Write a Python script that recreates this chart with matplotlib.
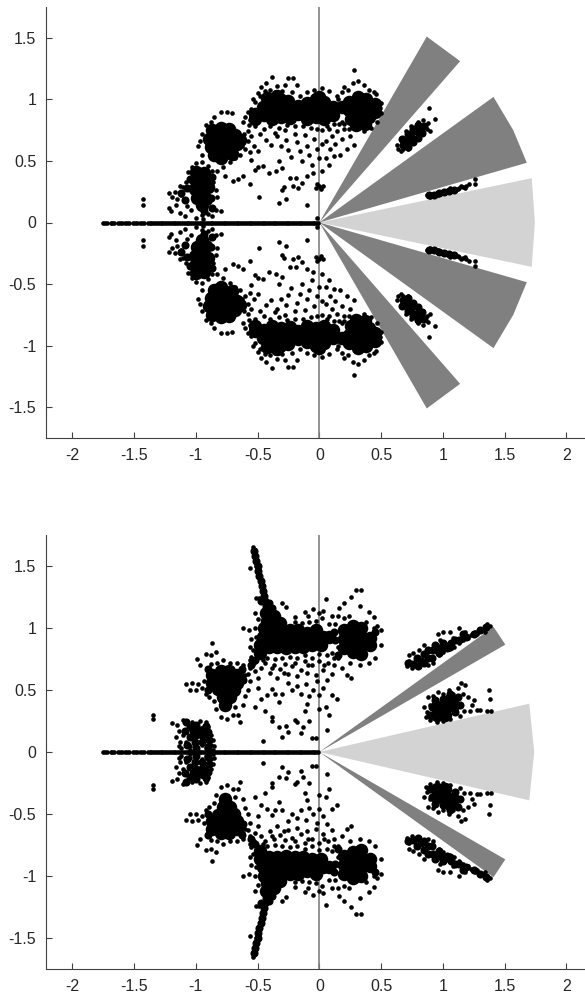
"""Two eigenvalue-style scatter panels with sector wedges (upper half typed, lower half is its conjugate)."""
import matplotlib

matplotlib.use("Agg")
import matplotlib.pyplot as plt
import numpy as np

plt.rcParams["font.family"] = ["Liberation Sans", "DejaVu Sans"]

XTICKS = [-2, -1.5, -1, -0.5, 0, 0.5, 1, 1.5, 2]
YTICKS = [-1.5, -1, -0.5, 0, 0.5, 1, 1.5]
XLABELS = ["-2", "-1.5", "-1", "-0.5", "0", "0.5", "1", "1.5", "2"]
YLABELS = ["-1.5", "-1", "-0.5", "0", "0.5", "1", "1.5"]

REAL_AXIS = [-1.75, -1.72, -1.69, -1.66, -1.63, -1.6, -1.57, -1.54, -1.51, -1.48, -1.45, -1.42,
             -1.39, -1.36, -1.33, -1.3, -1.27, -1.24, -1.21, -1.18, -1.15, -1.12, -1.09, -1.06,
             -1.03, -1.0, -0.97, -0.94, -0.91, -0.88, -0.85, -0.82, -0.79, -0.76, -0.73, -0.7,
             -0.67, -0.64, -0.61, -0.58, -0.55, -0.52, -0.49, -0.46, -0.43, -0.4, -0.37, -0.34,
             -0.31, -0.28, -0.25, -0.22, -0.19, -0.16, -0.13, -0.1, -0.07, -0.04, -0.01,
             -1.735, -1.675, -1.615, -1.555, -1.495, -1.435, -1.375, -1.345, -1.315, -1.285, -1.255,
             -1.225, -1.195, -1.165, -1.135, -1.105, -1.075, -1.045, -1.015, -0.985, -0.955, -0.925,
             -0.895, -0.865, -0.835, -0.805, -0.775, -0.745, -0.715, -0.685, -0.655, -0.625, -0.595,
             -0.565, -0.535, -0.505, -0.475, -0.445, -0.415, -0.385, -0.355, -0.325, -0.295, -0.265,
             -0.235, -0.205, -0.175, -0.145, -0.115, -0.085, -0.055, -0.025]

# wedge outlines, upper half only
TOP_LIGHT = [(0, 0), (1.72, 0.36), (1.745, 0), (1.72, -0.36)]
TOP_DARK = [[(0, 0), (1.68, 0.485), (1.57, 0.75), (1.41, 1.02)],
            [(0, 0), (1.14, 1.31), (0.87, 1.51)]]
BOT_LIGHT = [(0, 0), (1.70, 0.39), (1.74, 0), (1.70, -0.39)]
BOT_DARK = [[(0, 0), (1.506, 0.866), (1.41, 1.01)]]

# dense cores are too packed to read dot by dot, so they get fewer, fatter dots
TOP_CORE = [(-1.0, 0.41), (-0.93, 0.4), (-1.0, 0.34), (-0.93, 0.33), (-1.01, 0.27), (-0.94, 0.26),
            (-0.9, 0.29), (-0.99, 0.2), (-0.92, 0.19), (-0.95, 0.14),
            (-0.87, 0.75), (-0.8, 0.77), (-0.73, 0.76), (-0.89, 0.68), (-0.82, 0.7), (-0.75, 0.69),
            (-0.68, 0.71), (-0.88, 0.61), (-0.81, 0.63), (-0.74, 0.62), (-0.67, 0.64), (-0.85, 0.55),
            (-0.78, 0.56), (-0.71, 0.56), (-0.64, 0.67), (-0.8, 0.52),
            (-0.52, 0.88), (-0.46, 0.94), (-0.39, 0.98), (-0.32, 1.0), (-0.25, 0.99), (-0.52, 0.84),
            (-0.45, 0.87), (-0.38, 0.91), (-0.31, 0.93), (-0.24, 0.92), (-0.17, 0.95), (-0.1, 0.97),
            (-0.03, 1.0), (0.04, 0.98), (-0.38, 0.84), (-0.31, 0.86), (-0.24, 0.85), (-0.17, 0.88),
            (-0.1, 0.9), (-0.03, 0.93), (0.04, 0.91), (0.11, 0.94), (-0.03, 0.86), (0.04, 0.84),
            (0.11, 0.87), (-0.1, 0.84), (-0.42, 1.01), (-0.34, 1.03), (0.0, 1.02),
            (0.24, 0.98), (0.31, 1.02), (0.38, 1.0), (0.45, 0.96), (0.24, 0.91), (0.31, 0.95),
            (0.38, 0.93), (0.45, 0.9), (0.26, 0.84), (0.33, 0.88), (0.4, 0.86), (0.3, 0.79),
            (0.37, 0.8), (0.18, 0.94)]
BOT_CORE = [(-0.48, 0.86), (-0.41, 0.85), (-0.34, 0.85), (-0.27, 0.84), (-0.2, 0.85), (-0.13, 0.85),
            (-0.06, 0.86), (0.01, 0.86), (-0.46, 0.93), (-0.39, 0.92), (-0.32, 0.92), (-0.25, 0.91),
            (-0.18, 0.92), (-0.11, 0.92), (-0.04, 0.93), (0.03, 0.93), (-0.45, 1.0), (-0.38, 0.99),
            (-0.31, 0.99), (-0.24, 0.98), (-0.17, 0.98), (-0.1, 0.96), (-0.03, 0.98), (0.08, 0.93),
            (-0.42, 1.06), (-0.37, 1.1), (-0.43, 1.12), (-0.32, 1.04), (-0.48, 0.8),
            (0.2, 0.98), (0.27, 1.02), (0.34, 1.0), (0.2, 0.91), (0.27, 0.95), (0.34, 0.93),
            (0.41, 0.92), (0.2, 0.84), (0.27, 0.88), (0.34, 0.86), (0.41, 0.86), (0.27, 0.81),
            (0.34, 0.79),
            (-0.87, 0.62), (-0.8, 0.65), (-0.73, 0.65), (-0.67, 0.62), (-0.87, 0.56), (-0.8, 0.58),
            (-0.73, 0.58), (-0.67, 0.56), (-0.82, 0.51), (-0.75, 0.51), (-0.69, 0.5), (-0.78, 0.44),
            (-0.72, 0.44), (-0.76, 0.38),
            (-1.0, 0.16), (-0.94, 0.16),
            (0.95, 0.3), (1.02, 0.3), (0.95, 0.36), (1.02, 0.36), (1.08, 0.38), (1.06, 0.42)]

# streaks and thin clusters
TOP_MID = [(0.68, 0.63), (0.71, 0.66), (0.74, 0.7), (0.78, 0.74), (0.82, 0.77), (0.72, 0.61),
           (0.76, 0.65), (0.8, 0.69), (0.83, 0.73), (0.85, 0.78), (0.72, 0.72), (0.76, 0.76),
           (0.8, 0.79), (0.67, 0.68),
           (0.89, 0.22), (0.93, 0.225), (0.97, 0.24), (1.01, 0.245), (1.05, 0.255), (1.09, 0.265),
           (-1.12, 0.24), (-1.09, 0.18), (-1.07, 0.28), (-1.05, 0.35), (-0.87, 0.37), (-0.88, 0.2),
           (-0.93, 0.09), (-0.87, 0.12)]
BOT_MID = [(-0.53, 1.62), (-0.52, 1.58), (-0.51, 1.54), (-0.5, 1.5), (-0.495, 1.46), (-0.485, 1.42),
           (-0.475, 1.38), (-0.465, 1.34), (-0.46, 1.3), (-0.45, 1.26), (-0.44, 1.22), (-0.43, 1.18),
           (-0.47, 1.22), (-0.38, 1.16), (-0.41, 1.2),
           (0.76, 0.71), (0.8, 0.69), (0.85, 0.72), (0.79, 0.76), (0.85, 0.79), (0.91, 0.76), (0.92, 0.82),
           (0.97, 0.8), (0.98, 0.84), (1.03, 0.84), (1.07, 0.88), (1.13, 0.9), (1.19, 0.93), (1.25, 0.95),
           (1.3, 0.98), (1.35, 1.01), (0.72, 0.72), (0.82, 0.73), (0.88, 0.76), (0.88, 0.82), (0.94, 0.86),
           (1.0, 0.88), (1.06, 0.85), (1.1, 0.9), (1.16, 0.95),
           (0.9, 0.3), (0.91, 0.36), (0.94, 0.42), (1.0, 0.43), (1.1, 0.32), (1.14, 0.38), (1.12, 0.44),
           (1.06, 0.47),
           (-1.08, 0.24), (-1.05, 0.2), (-1.09, 0.17), (-1.05, 0.12), (-1.01, 0.08), (-0.95, 0.08), (-0.9, 0.16),
           (-0.92, 0.21), (-1.0, 0.22), (-0.89, 0.1), (-1.07, 0.06), (-1.0, 0.03), (-0.9, 0.04),
           (-0.9, 0.67), (-0.62, 0.58), (-0.63, 0.67), (-0.55, 0.7), (-0.52, 0.74), (-0.9, 0.5),
           (0.13, 0.9), (0.12, 0.97), (0.45, 0.97), (0.15, 0.78)]

TOP_DOTS = [(-1.43, 0.19), (-1.43, 0.14), (-1.22, 0.24), (-1.19, 0.21), (-1.17, 0.25), (-1.22, 0.12),
            (-1.2, 0.09), (-1.16, 0.14), (-1.15, 0.19), (-1.13, 0.08), (-1.12, 0.22), (-1.1, 0.29),
            (-1.13, 0.3), (-1.08, 0.33), (-1.07, 0.13), (-1.09, 0.05), (-1.06, 0.41), (-1.03, 0.45),
            (-1.0, 0.48), (-0.95, 0.49), (-0.9, 0.46), (-0.87, 0.42), (-0.86, 0.33), (-0.84, 0.26),
            (-0.83, 0.21), (-0.87, 0.12), (-0.84, 0.1), (-0.9, 0.07), (-0.95, 0.06), (-1.0, 0.04),
            (-0.94, 0.03), (-0.87, 0.05), (-0.8, 0.09), (-0.94, 0.1), (-1.04, 0.1),
            (-0.97, 0.66), (-0.98, 0.62), (-0.95, 0.72), (-0.95, 0.55), (-0.92, 0.79), (-0.88, 0.82),
            (-0.85, 0.86), (-0.8, 0.9), (-0.75, 0.9), (-0.71, 0.89), (-0.62, 0.82), (-0.58, 0.74),
            (-0.6, 0.6), (-0.64, 0.55), (-0.68, 0.52), (-0.72, 0.49), (-0.78, 0.45), (-0.83, 0.42),
            (-0.76, 0.38), (-0.7, 0.34), (-0.66, 0.35), (-0.62, 0.38), (-0.56, 0.31), (-0.52, 0.43),
            (-0.55, 0.51), (-0.5, 0.45), (-0.46, 0.46), (-0.41, 0.4), (-0.49, 0.21), (-0.56, 0.57),
            (-0.5, 0.58), (-0.56, 0.83), (-0.55, 0.92), (-0.52, 0.98), (-0.5, 1.05), (-0.47, 1.1),
            (-0.43, 1.13), (-0.38, 1.18), (-0.34, 1.11), (-0.28, 1.12), (-0.25, 1.17), (-0.21, 1.17),
            (-0.18, 1.12), (-0.1, 1.06), (-0.04, 1.08), (0.02, 1.09), (0.08, 1.07), (0.14, 1.03),
            (0.2, 1.1), (0.27, 1.13), (0.31, 1.15), (0.36, 1.12), (0.46, 1.04), (0.5, 0.97),
            (0.5, 0.89), (0.47, 0.82), (0.42, 0.77), (0.36, 0.74), (0.28, 1.24), (0.89, 0.93), (0.94, 0.84),
            (-0.45, 0.76), (-0.4, 0.78), (-0.36, 0.73), (-0.34, 0.7), (-0.43, 0.67), (-0.39, 0.63),
            (-0.31, 0.62), (-0.28, 0.75), (-0.27, 0.67), (-0.25, 0.59), (-0.23, 0.53), (-0.2, 0.72),
            (-0.18, 0.65), (-0.16, 0.58), (-0.14, 0.5), (-0.12, 0.71), (-0.1, 0.62), (-0.08, 0.55),
            (-0.06, 0.47), (-0.04, 0.68), (-0.02, 0.6), (0.0, 0.52), (0.02, 0.42), (-0.05, 0.4),
            (-0.02, 0.31), (0.0, 0.3), (0.03, 0.3), (-0.03, 0.28), (0.01, 0.27), (-0.14, 0.32),
            (-0.1, 0.38), (-0.17, 0.28), (-0.21, 0.3), (-0.33, 0.5), (-0.35, 0.42), (-0.3, 0.44),
            (-0.29, 0.29), (-0.3, 0.26), (-0.33, 0.16), (-0.27, 0.19), (-0.24, 0.36), (-0.19, 0.36),
            (-0.1, 0.14), (-0.02, 0.04), (0.06, 0.78), (0.1, 0.7), (0.14, 0.74), (0.18, 0.68),
            (0.05, 0.66), (0.09, 0.6), (0.13, 0.64), (0.17, 0.55), (0.2, 0.8), (0.25, 0.7), (0.28, 0.63),
            (0.22, 0.6), (0.05, 0.52), (0.08, 0.47), (0.12, 0.54), (0.02, 0.64), (0.16, 0.8),
            (0.64, 0.6), (0.66, 0.58), (0.63, 0.63), (0.68, 0.6), (0.72, 0.6), (0.76, 0.65),
            (0.8, 0.68), (0.84, 0.72), (0.87, 0.76), (0.88, 0.81), (0.84, 0.83), (0.8, 0.82),
            (0.74, 0.78), (0.7, 0.74), (0.9, 0.74), (0.66, 0.68),
            (0.87, 0.22), (0.89, 0.23), (0.92, 0.22), (0.95, 0.24), (0.98, 0.23), (1.01, 0.25),
            (1.04, 0.25), (1.07, 0.26), (1.1, 0.27), (1.13, 0.28), (1.16, 0.29), (1.19, 0.3),
            (0.9, 0.21), (0.96, 0.22), (1.02, 0.24), (1.06, 0.28), (1.26, 0.35), (1.26, 0.31),
            (1.12, 0.27), (1.15, 0.3), (1.18, 0.28), (1.21, 0.31),
            (-0.6, 0.86), (-0.58, 0.9), (-0.57, 0.79), (-0.54, 1.0), (-0.48, 1.03), (-0.44, 1.07),
            (-0.4, 1.08), (-0.36, 1.06), (-0.3, 1.07), (-0.22, 1.06), (-0.16, 1.03), (0.15, 1.0),
            (0.18, 1.06), (0.23, 1.08), (0.4, 1.08), (0.44, 1.06), (0.49, 0.93), (0.18, 0.82),
            (0.2, 0.76), (0.24, 0.76), (0.12, 0.8), (0.08, 0.76), (0.02, 0.75), (-0.02, 0.76),
            (-0.07, 0.77), (-0.13, 0.78), (-0.2, 0.78), (-0.26, 0.79), (-0.33, 0.77), (-0.48, 0.72),
            (-0.52, 0.78), (-0.55, 0.7), (-0.61, 0.72), (-0.58, 0.66), (-0.53, 0.62), (-0.63, 0.62)]

BOT_DOTS = [(-0.54, 1.65), (-0.535, 1.62), (-0.53, 1.59), (-0.52, 1.56), (-0.515, 1.53), (-0.51, 1.5),
            (-0.5, 1.47), (-0.5, 1.44), (-0.49, 1.41), (-0.48, 1.38), (-0.47, 1.35), (-0.46, 1.32),
            (-0.46, 1.29), (-0.45, 1.26), (-0.44, 1.24), (-0.43, 1.21), (-0.42, 1.18), (-0.47, 1.21),
            (-0.44, 1.16), (-0.41, 1.14), (-0.45, 1.12), (-0.39, 1.1), (-0.56, 1.48), (-0.49, 1.24),
            (-0.46, 1.27), (-0.52, 1.12), (-0.51, 1.24), (-0.5, 1.07), (-0.52, 1.0), (-0.55, 0.91),
            (-0.56, 0.85), (-0.51, 0.93), (-0.56, 0.74), (-0.54, 0.82), (-0.55, 0.77), (-0.53, 0.72),
            (-0.36, 1.08), (-0.3, 1.2), (-0.27, 1.17), (-0.2, 1.09), (-0.12, 1.13), (-0.09, 1.1),
            (-0.05, 1.15), (0.05, 1.23), (0.03, 1.14), (0.0, 1.12), (0.02, 1.08), (0.1, 1.1),
            (0.16, 1.16), (0.2, 1.2), (0.26, 1.25), (0.3, 1.31), (0.34, 1.31), (0.33, 1.18), (0.4, 1.13),
            (0.44, 1.09), (0.47, 1.02), (0.5, 0.98), (0.5, 0.86), (0.45, 0.76), (0.4, 0.72), (0.33, 0.7),
            (0.25, 0.72), (0.18, 0.68), (0.22, 0.62), (0.26, 0.6), (0.15, 0.85), (0.15, 0.76), (0.12, 0.7),
            (-1.35, 0.3), (-1.35, 0.27), (-1.19, 0.23), (-1.15, 0.22), (-1.16, 0.12), (-1.14, 0.17),
            (-1.13, 0.08), (-1.12, 0.03), (-1.14, 0.05), (-1.1, 0.26), (-1.07, 0.25), (-1.03, 0.24),
            (-0.97, 0.25), (-0.92, 0.24), (-0.9, 0.2), (-0.88, 0.14), (-0.86, 0.1), (-0.85, 0.05),
            (-0.88, 0.06), (-0.86, 0.02), (-1.1, 0.14), (-1.08, 0.08), (-1.05, 0.05), (-1.0, 0.03),
            (-0.95, 0.06), (-0.92, 0.1), (-0.92, 0.03), (-1.05, 0.02), (-0.96, 0.12),
            (-0.95, 0.52), (-0.98, 0.55), (-1.0, 0.5), (-1.05, 0.5), (-1.08, 0.55), (-1.03, 0.56),
            (-0.93, 0.57), (-0.92, 0.47), (-0.89, 0.44), (-0.85, 0.41), (-0.84, 0.35), (-0.8, 0.28),
            (-0.75, 0.27), (-0.7, 0.3), (-0.66, 0.3), (-0.64, 0.24), (-0.68, 0.36), (-0.62, 0.38),
            (-0.6, 0.45), (-0.58, 0.5), (-0.56, 0.57), (-0.6, 0.62), (-0.62, 0.7), (-0.67, 0.72),
            (-0.72, 0.72), (-0.78, 0.74), (-0.83, 0.72), (-0.88, 0.71), (-0.92, 0.79), (-0.88, 0.78),
            (-0.84, 0.81), (-0.87, 0.88), (-0.99, 0.75), (-0.97, 0.7), (-0.62, 1.0), (-0.57, 0.98),
            (-0.58, 0.63), (-0.62, 0.65), (-0.56, 0.68), (-0.52, 0.65), (-0.5, 0.6), (-0.47, 0.68),
            (-0.44, 0.72), (-0.4, 0.64), (-0.37, 0.7), (-0.34, 0.6), (-0.32, 0.67), (-0.28, 0.71),
            (-0.25, 0.63), (-0.22, 0.69), (-0.18, 0.61), (-0.15, 0.66), (-0.12, 0.73), (-0.1, 0.64),
            (-0.06, 0.7), (-0.03, 0.62), (0.0, 0.73), (0.03, 0.66), (0.07, 0.72), (0.1, 0.63),
            (-0.5, 0.52), (-0.47, 0.43), (-0.42, 0.46), (-0.38, 0.51), (-0.36, 0.47), (-0.33, 0.4),
            (-0.3, 0.47), (-0.25, 0.56), (-0.22, 0.5), (-0.18, 0.53), (-0.15, 0.47), (-0.11, 0.55),
            (-0.08, 0.45), (-0.05, 0.5), (-0.02, 0.57), (0.0, 0.46), (0.03, 0.52), (0.06, 0.58),
            (-0.52, 0.36), (-0.44, 0.33), (-0.38, 0.28), (-0.38, 0.25), (-0.33, 0.2), (-0.3, 0.12),
            (-0.27, 0.21), (-0.25, 0.16), (-0.2, 0.26), (-0.18, 0.24), (-0.15, 0.15), (-0.13, 0.2),
            (-0.12, 0.33), (-0.1, 0.39), (-0.08, 0.25), (-0.06, 0.11), (-0.03, 0.11), (0.0, 0.35),
            (-0.46, 0.09), (0.05, 0.36), (0.1, 0.46), (0.14, 0.43), (0.08, 0.3), (0.06, 0.18),
            (0.71, 0.69), (0.73, 0.73), (0.75, 0.68), (0.73, 0.78), (0.76, 0.8), (0.81, 0.82),
            (0.85, 0.86), (0.88, 0.7), (0.92, 0.72), (0.97, 0.78), (0.93, 0.85), (0.98, 0.9),
            (1.0, 0.85), (1.04, 0.87), (1.0, 0.81), (1.05, 0.83), (1.09, 0.85), (1.08, 0.92),
            (1.13, 0.88), (1.16, 0.9), (1.2, 0.92), (1.23, 0.94), (1.26, 0.97), (1.3, 0.99),
            (1.33, 1.0), (1.36, 1.03), (1.38, 1.02), (1.34, 0.97), (1.28, 0.95), (1.18, 0.97), (1.13, 1.0),
            (0.96, 0.95), (1.0, 0.97), (1.06, 0.97),
            (0.86, 0.28), (0.85, 0.36), (0.88, 0.44), (0.92, 0.45), (0.96, 0.48), (1.0, 0.47), (1.05, 0.5),
            (1.08, 0.47), (1.12, 0.52), (1.15, 0.56), (1.18, 0.54), (1.16, 0.47), (1.2, 0.44), (1.24, 0.38),
            (1.28, 0.34), (1.25, 0.42), (1.3, 0.34), (1.36, 0.33), (1.39, 0.33), (1.38, 0.43), (1.37, 0.5),
            (1.22, 0.33), (1.17, 0.33), (1.14, 0.29), (0.9, 0.26), (0.95, 0.24), (1.0, 0.25), (1.06, 0.27),
            (0.87, 0.32), (0.9, 0.38), (1.1, 0.42),
            (-0.46, 0.74), (-0.42, 0.76), (-0.36, 0.75), (-0.3, 0.76), (-0.24, 0.77), (-0.18, 0.76),
            (-0.12, 0.78), (-0.06, 0.76), (0.0, 0.79), (0.06, 0.78), (0.1, 0.8), (-0.38, 0.68),
            (-0.29, 0.64), (-0.2, 0.72), (-0.09, 0.7), (0.04, 0.7), (0.12, 0.76), (0.13, 1.03),
            (0.08, 1.03), (0.15, 1.1), (0.2, 1.08), (0.24, 1.1), (0.38, 1.05), (0.44, 1.0),
            (-0.2, 1.05), (-0.14, 1.04), (-0.08, 1.05), (-0.03, 1.06)]


def mirrored(points):
    # spectrum comes in conjugate pairs
    pts = np.array(points)
    return np.r_[pts[:, 0], pts[:, 0]], np.r_[pts[:, 1], -pts[:, 1]]


def draw_panel(rect, light, dark, core, mid, dots):
    ax = fig.add_axes(rect)
    ax.fill(*zip(*light), color="#d3d3d3", lw=0, zorder=1)
    for wedge in dark:
        wx, wy = np.array(wedge).T
        ax.fill(wx, wy, color="#808080", lw=0, zorder=1)
        ax.fill(wx, -wy, color="#808080", lw=0, zorder=1)
    ax.axvline(0, color="#808080", lw=1.2, zorder=2)

    for pts, size in ((core, 95), (mid, 34), (dots, 11)):
        px, py = mirrored(pts)
        ax.scatter(px, py, s=size, c="k", lw=0, zorder=3)
    ax.scatter(REAL_AXIS, np.zeros(len(REAL_AXIS)), s=11, c="k", lw=0, zorder=3)

    ax.set_xlim(-2.213, 2.151)
    ax.set_ylim(-1.75, 1.75)
    ax.set_xticks(XTICKS, XLABELS)
    ax.set_yticks(YTICKS, YLABELS)
    ax.tick_params(direction="in", length=4, width=0.8, color="#404040",
                   labelcolor="#262626", labelsize=11.5, pad=7)
    for side in ("top", "right"):
        ax.spines[side].set_visible(False)
    for side in ("left", "bottom"):
        ax.spines[side].set_color("#404040")
        ax.spines[side].set_linewidth(0.8)
    return ax


W, H = 585, 998
fig = plt.figure(figsize=(W / 100, H / 100), dpi=100)
draw_panel([46 / W, (H - 438) / H, 539 / W, 431 / H], TOP_LIGHT, TOP_DARK, TOP_CORE, TOP_MID, TOP_DOTS)
draw_panel([46 / W, (H - 969) / H, 539 / W, 434 / H], BOT_LIGHT, BOT_DARK, BOT_CORE, BOT_MID, BOT_DOTS)
fig.savefig("out.png", dpi=100)
plt.close(fig)
